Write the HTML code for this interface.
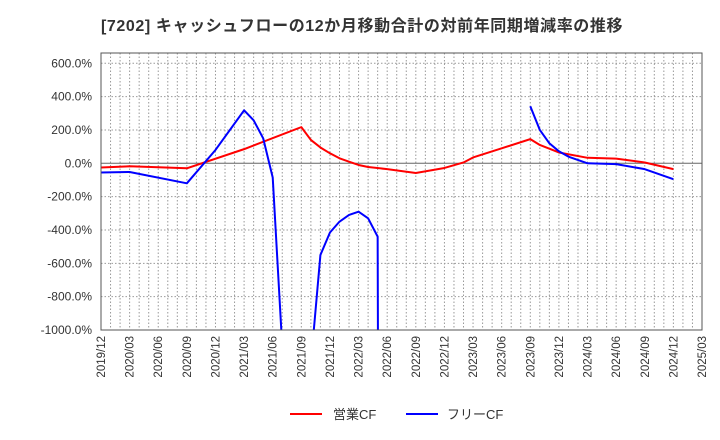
<!DOCTYPE html>
<html><head><meta charset="utf-8"><style>
html,body{margin:0;padding:0;background:#fff;overflow:hidden;}
svg{display:block;}
svg text{font-family:"Liberation Sans","Noto Sans CJK JP",sans-serif;}
</style></head><body>
<svg id="chart" width="720" height="440" xmlns="http://www.w3.org/2000/svg">
<text x="101" y="31" font-size="16" font-weight="bold" letter-spacing="0.6" fill="#333">[7202]  キャッシュフローの12か月移動合計の対前年同期増減率の推移</text>
<defs><clipPath id="plotclip"><rect x="101" y="53" width="601" height="277"/></clipPath></defs>
<g id="grid"></g>
<g id="yaxis"></g>
<g id="xaxis"></g>
<g id="series" clip-path="url(#plotclip)"></g>
<rect x="101" y="53" width="601" height="277" fill="none" stroke="#555" stroke-width="1"/>
<g>
<line x1="290" y1="414" x2="322" y2="414" stroke="#ff0000" stroke-width="2"/>
<text x="333" y="419" font-size="13" fill="#333">営業CF</text>
<line x1="406" y1="414" x2="438" y2="414" stroke="#0000ff" stroke-width="2"/>
<text x="447" y="419" font-size="13" fill="#333">フリーCF</text>
</g>
</svg>
<script>
const xTickLabels = ["2019/12","2020/03","2020/06","2020/09","2020/12","2021/03","2021/06","2021/09","2021/12","2022/03","2022/06","2022/09","2022/12","2023/03","2023/06","2023/09","2023/12","2024/03","2024/06","2024/09","2024/12","2025/03"];
const yTicks = [600,400,200,0,-200,-400,-600,-800,-1000];
const redMonths = [0,3,9,15,21,22,23,24,25,26,27,28,30,33,36,38,39,42,45,46,48,51,54,57,60];
const redValues = [-25,-18,-30,85,217,140,95,60,30,10,-10,-22,-35,-58,-28,5,35,90,145,110,65,33,28,5,-35];
const blueMonths1 = [0,3,9,12,15,16,17,18,19,20,21,22,23,24,25,26,27,28,29,30];
const blueValues1 = [-55,-52,-120,80,318,258,150,-85,-1100,-3000,-3000,-1200,-550,-415,-350,-310,-290,-330,-440,-20000];
const blueMonths2 = [45,46,47,48,49,51,54,57,60];
const blueValues2 = [342,200,120,72,40,0,-5,-35,-95];

const NS="http://www.w3.org/2000/svg";
const X0=101,X1=702,Y0=53,Y1=330,NM=63;
const xs=m=>X0+m*(X1-X0)/NM;
const ys=v=>163.3-v*(330-163.3)/1000;
function mk(t,a,p){const e=document.createElementNS(NS,t);for(const k in a)e.setAttribute(k,a[k]);p.appendChild(e);return e;}
const grid=document.getElementById('grid'),ya=document.getElementById('yaxis'),xa=document.getElementById('xaxis'),se=document.getElementById('series');
for(let m=1;m<NM;m++){
  const l=mk('line',{x1:xs(m),x2:xs(m),y1:Y0,y2:Y1,stroke:'#999','stroke-dasharray':'1.5,2','stroke-width':1},grid);
  
  
}
yTicks.forEach(v=>{
  const y=ys(v);
  const l=mk('line',{x1:X0,x2:X1,y1:y,y2:y,stroke:v===0?'#666':'#999','stroke-dasharray':v===0?'none':'1.5,2','stroke-width':1},grid);
  
  
  const t=mk('text',{x:92,y:y+4,'text-anchor':'end','font-size':12,fill:'#333'},ya);
  t.textContent=v.toFixed(1)+'%';
  
  
});
xTickLabels.forEach((s,i)=>{
  const x=xs(i*3);
  const t=mk('text',{x:0,y:0,transform:`translate(${x+4},${336}) rotate(-90)`,'text-anchor':'end','font-size':11.5,fill:'#333'},xa);
  t.textContent=s;
  
  
});
function line(ms,vs,c,name){
  const p=mk('polyline',{points:ms.map((m,i)=>xs(m)+','+ys(vs[i])).join(' '),fill:'none',stroke:c,'stroke-width':2,'stroke-linejoin':'round'},se);
  
  
}
line(redMonths,redValues,'#ff0000','operating-cf-line');
line(blueMonths1,blueValues1,'#0000ff','free-cf-line-1');
line(blueMonths2,blueValues2,'#0000ff','free-cf-line-2');
</script>
</body></html>
